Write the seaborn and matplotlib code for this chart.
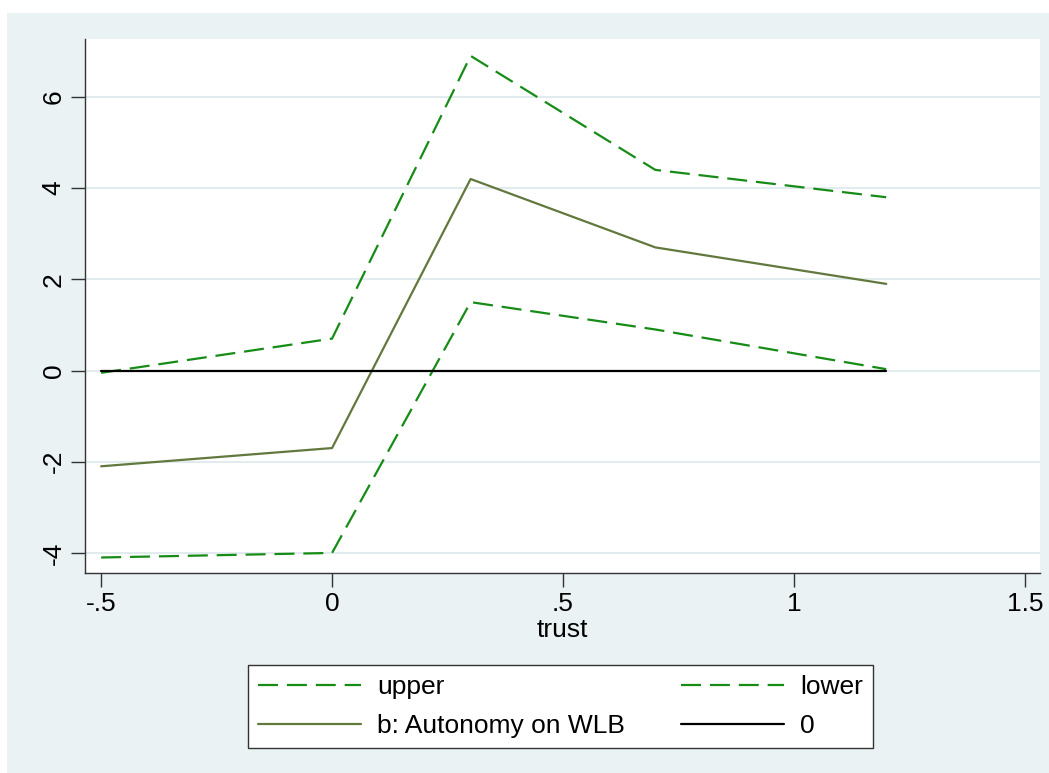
import matplotlib
matplotlib.use("Agg")
import matplotlib.pyplot as plt
from matplotlib.patches import Rectangle
import seaborn as sns
import pandas as pd

# ---- data ----
trust = [-0.5, 0.0, 0.3, 0.7, 1.2]
upper = [-0.05, 0.7, 6.9, 4.4, 3.8]
b_est = [-2.1, -1.7, 4.2, 2.7, 1.9]
lower = [-4.1, -4.0, 1.5, 0.9, 0.03]
zero = [0, 0, 0, 0, 0]

xticks = [-0.5, 0, 0.5, 1, 1.5]
xticklabels = ["-.5", "0", ".5", "1", "1.5"]
yticks = [-4, -2, 0, 2, 4, 6]
yticklabels = ["-4", "-2", "0", "2", "4", "6"]

df = pd.DataFrame({"trust": trust, "upper": upper, "b": b_est,
                   "lower": lower, "zero": zero})

sns.set_style("white")
plt.rcParams['font.family'] = ['Liberation Sans', 'DejaVu Sans']
plt.rcParams['text.color'] = 'black'
plt.rcParams['xtick.color'] = 'black'
plt.rcParams['ytick.color'] = 'black'
plt.rcParams['axes.labelcolor'] = 'black'

W, H = 1049, 773
FS = 19
fig = plt.figure(figsize=(W / 100, H / 100), dpi=100)
fig.patch.set_facecolor("white")
fig.patches.append(Rectangle((7 / W, 0), (W - 7) / W, (H - 13) / H,
                             transform=fig.transFigure, facecolor="#EAF2F3",
                             edgecolor="none", zorder=-10))

ax = fig.add_axes([85 / W, 1 - 573 / H, (1040 - 85) / W, (573 - 39) / H])
ax.set_facecolor("white")

green = "#168c16"
olive = "#62783d"
dash = (0, (9, 4))

sns.lineplot(data=df, x="trust", y="upper", ax=ax, color=green, lw=1.6,
             linestyle=dash, label="upper")
sns.lineplot(data=df, x="trust", y="b", ax=ax, color=olive, lw=1.6,
             label="b: Autonomy on WLB")
sns.lineplot(data=df, x="trust", y="lower", ax=ax, color=green, lw=1.6,
             linestyle=dash, label="lower")
sns.lineplot(data=df, x="trust", y="zero", ax=ax, color="black", lw=1.6,
             label="0")

ax.set_xlim(-0.535, 1.533)
ax.set_ylim(-4.44, 7.27)
ax.set_xticks(xticks)
ax.set_xticklabels(xticklabels)
ax.set_yticks(yticks)
ax.set_yticklabels(yticklabels, rotation=90, va="center")
ax.tick_params(axis="both", direction="out", length=10, width=1, color="#333333",
               labelsize=FS, pad=4, left=True, bottom=True)
ax.set_xlabel("trust", fontsize=FS, labelpad=1)
ax.set_ylabel("")

ax.grid(axis="y", color="#E2ECEE", lw=1.5)
ax.grid(axis="x", visible=False)
ax.set_axisbelow(True)
for s in ["top", "right"]:
    ax.spines[s].set_visible(False)
for s in ["left", "bottom"]:
    ax.spines[s].set_color("#333333")
    ax.spines[s].set_linewidth(1)

leg = ax.legend(ncol=2, loc="lower left",
                bbox_to_anchor=(248 / W, 1 - 748 / H, 625 / W, 88 / H),
                bbox_transform=fig.transFigure, mode="expand",
                frameon=True, fancybox=False, edgecolor="#333333",
                facecolor="white", framealpha=1,
                fontsize=FS, handlelength=3.9, handletextpad=0.6,
                borderaxespad=0, borderpad=0.38, labelspacing=0.55,
                columnspacing=1.0)
leg.get_frame().set_linewidth(1)

fig.savefig("out.png", dpi=100, facecolor=fig.get_facecolor())
